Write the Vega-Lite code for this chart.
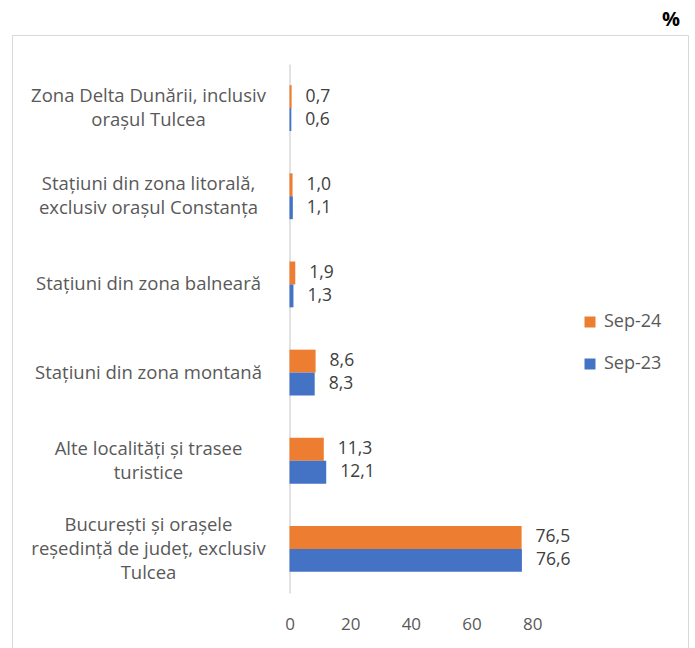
{
  "$schema": "https://vega.github.io/schema/vega-lite/v6.json",
  "width": 676,
  "height": 613,
  "autosize": {"type": "none"},
  "padding": {"left": 12, "top": 35, "right": 7, "bottom": 0},
  "title": {"text": "%", "anchor": "end", "frame": "group", "fontSize": 20, "fontWeight": "bold", "color": "#000000", "offset": 8, "baseline": "alphabetic", "dx": -8, "dy": 19},
  "data": {
    "values": [
      {"cat": "Zona Delta Dunării, inclusiv|orașul Tulcea", "series": "Sep-24", "value": 0.7},
      {"cat": "Zona Delta Dunării, inclusiv|orașul Tulcea", "series": "Sep-23", "value": 0.6},
      {"cat": "Stațiuni din zona litorală,|exclusiv orașul Constanța", "series": "Sep-24", "value": 1.0},
      {"cat": "Stațiuni din zona litorală,|exclusiv orașul Constanța", "series": "Sep-23", "value": 1.1},
      {"cat": "Stațiuni din zona balneară", "series": "Sep-24", "value": 1.9},
      {"cat": "Stațiuni din zona balneară", "series": "Sep-23", "value": 1.3},
      {"cat": "Stațiuni din zona montană", "series": "Sep-24", "value": 8.6},
      {"cat": "Stațiuni din zona montană", "series": "Sep-23", "value": 8.3},
      {"cat": "Alte localități și trasee|turistice", "series": "Sep-24", "value": 11.3},
      {"cat": "Alte localități și trasee|turistice", "series": "Sep-23", "value": 12.1},
      {"cat": "București și orașele|reședință de județ, exclusiv|Tulcea", "series": "Sep-24", "value": 76.5},
      {"cat": "București și orașele|reședință de județ, exclusiv|Tulcea", "series": "Sep-23", "value": 76.6}
    ]
  },
  "encoding": {
    "y": {
      "field": "cat",
      "type": "nominal",
      "sort": [
        "Zona Delta Dunării, inclusiv|orașul Tulcea",
        "Stațiuni din zona litorală,|exclusiv orașul Constanța",
        "Stațiuni din zona balneară",
        "Stațiuni din zona montană",
        "Alte localități și trasee|turistice",
        "București și orașele|reședință de județ, exclusiv|Tulcea"
      ],
      "scale": {"range": [29, 558], "paddingInner": 0.48, "paddingOuter": 0.24},
      "axis": {
        "title": null,
        "orient": "left",
        "offset": -277.5,
        "domain": true,
        "domainColor": "#D9D9D9",
        "domainWidth": 1.5,
        "ticks": false,
        "tickSize": 0,
        "labelPadding": 141.5,
        "labelAlign": "center",
        "labelBaseline": "middle",
        "labelLimit": 400,
        "labelFontSize": 18.5,
        "labelColor": "#595959",
        "labelLineHeight": 24,
        "labelExpr": "split(datum.label, '|')",
        "labelOffset": {"expr": "-(length(split(datum.label, '|')) - 1) * 12"}
      }
    },
    "yOffset": {
      "field": "series",
      "type": "nominal",
      "scale": {"domain": ["Sep-24", "Sep-23"], "paddingInner": 0, "paddingOuter": 0}
    },
    "x": {
      "field": "value",
      "type": "quantitative",
      "scale": {"domain": [-91.46, 131.34], "nice": false},
      "axis": {
        "title": null,
        "values": [0, 20, 40, 60, 80],
        "domain": false,
        "ticks": false,
        "tickSize": 0,
        "grid": false,
        "offset": -24,
        "labelPadding": 0,
        "labelBaseline": "middle",
        "labelFontSize": 17,
        "labelColor": "#595959"
      }
    }
  },
  "layer": [
    {
      "mark": {"type": "bar"},
      "encoding": {
        "x2": {"datum": 0},
        "color": {
          "field": "series",
          "type": "nominal",
          "scale": {"domain": ["Sep-24", "Sep-23"], "range": ["#ED7D31", "#4472C4"]},
          "legend": {
            "title": null,
            "orient": "none",
            "legendX": 569,
            "legendY": 278,
            "symbolType": "square",
            "symbolSize": 121,
            "symbolStrokeWidth": 0,
            "labelFontSize": 18,
            "labelColor": "#595959",
            "labelOffset": 5,
            "rowPadding": 24,
            "padding": 0
          }
        }
      }
    },
    {
      "mark": {"type": "text", "align": "left", "baseline": "middle", "dx": 14, "fontSize": 17.5, "color": "#404040"},
      "encoding": {"text": {"field": "value", "type": "quantitative", "format": ".1f"}}
    }
  ],
  "config": {
    "font": "Open Sans",
    "locale": {"number": {"decimal": ",", "thousands": ".", "grouping": [3], "currency": ["", " lei"]}},
    "view": {"stroke": "#D9D9D9", "strokeWidth": 1}
  }
}
